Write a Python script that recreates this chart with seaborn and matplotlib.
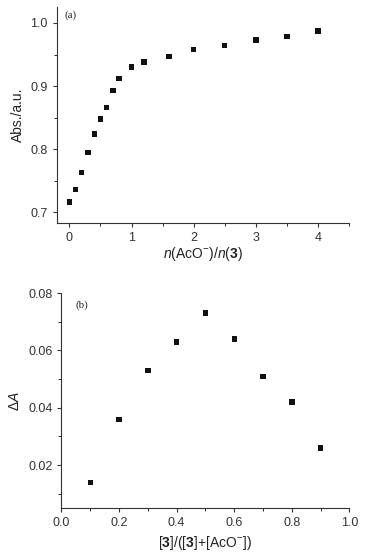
import numpy as np
import pandas as pd
import seaborn as sns
import matplotlib.pyplot as plt
from matplotlib.ticker import MultipleLocator

# Panel (a): titration
ratio_a = [0, 0.1, 0.2, 0.3, 0.4, 0.5, 0.6, 0.7, 0.8, 1.0, 1.2, 1.6, 2.0, 2.5, 3.0, 3.5, 4.0]
abs_a = [0.716, 0.736, 0.763, 0.795, 0.824, 0.848, 0.866, 0.893, 0.912, 0.930,
         0.938, 0.947, 0.958, 0.964, 0.973, 0.979, 0.987]

# Panel (b): Job plot
frac_b = [0.1, 0.2, 0.3, 0.4, 0.5, 0.6, 0.7, 0.8, 0.9]
delta_b = [0.014, 0.036, 0.053, 0.063, 0.073, 0.064, 0.051, 0.042, 0.026]

sns.set_style("ticks")
plt.rcParams["font.family"] = ["Liberation Sans", "DejaVu Sans"]
plt.rcParams["mathtext.fontset"] = "custom"
plt.rcParams["mathtext.rm"] = "Liberation Sans"
plt.rcParams["mathtext.it"] = "Liberation Sans:italic"
plt.rcParams["mathtext.bf"] = "Liberation Sans:bold"

fig = plt.figure(figsize=(3.77, 5.52), dpi=100)
ax1 = fig.add_axes([0.151, 0.596, 0.775, 0.391])
ax2 = fig.add_axes([0.163, 0.079, 0.764, 0.390])

df_a = pd.DataFrame({"x": ratio_a, "y": abs_a})
df_b = pd.DataFrame({"x": frac_b, "y": delta_b})

for ax, df in [(ax1, df_a), (ax2, df_b)]:
    sns.scatterplot(data=df, x="x", y="y", ax=ax, marker="s", s=15,
                    color="#111111", edgecolor="none")
    sns.despine(ax=ax)
    ax.tick_params(axis="both", which="major", direction="out", length=3,
                   width=0.8, labelsize=9, colors="#333333", labelcolor="#333333")
    ax.tick_params(axis="both", which="minor", direction="out", length=2, width=0.7)
    for s in ["left", "bottom"]:
        ax.spines[s].set_linewidth(0.8)
        ax.spines[s].set_color("#333333")

ax1.set_xlim(-0.2, 4.5)
ax1.set_ylim(0.683, 1.025)
ax1.xaxis.set_major_locator(MultipleLocator(1))
ax1.xaxis.set_minor_locator(MultipleLocator(0.5))
ax1.yaxis.set_major_locator(MultipleLocator(0.1))
ax1.yaxis.set_minor_locator(MultipleLocator(0.05))
ax1.set_xlabel(r"$\it{n}$(AcO$^{-}$)/$\it{n}$($\bf{3}$)", fontsize=10, color="#222222", labelpad=1)
ax1.set_ylabel("Abs./a.u.", fontsize=10, color="#222222", labelpad=4)
ax1.text(0.027, 0.963, "(a)", transform=ax1.transAxes, fontsize=8,
         family="Liberation Serif", ha="left", va="center")

ax2.set_xlim(0, 1.0)
ax2.set_ylim(0.0049, 0.08)
ax2.xaxis.set_major_locator(MultipleLocator(0.2))
ax2.xaxis.set_minor_locator(MultipleLocator(0.1))
ax2.yaxis.set_major_locator(MultipleLocator(0.02))
ax2.yaxis.set_minor_locator(MultipleLocator(0.01))
ax2.xaxis.set_major_formatter(plt.FormatStrFormatter("%.1f"))
ax2.yaxis.set_major_formatter(plt.FormatStrFormatter("%.2f"))
ax2.set_xlabel(r"[$\bf{3}$]/([$\bf{3}$]+[AcO$^{-}$])", fontsize=10, color="#222222", labelpad=3)
ax2.set_ylabel(r"$\Delta\it{A}$", fontsize=10, color="#222222", labelpad=4)
ax2.text(0.049, 0.944, "(b)", transform=ax2.transAxes, fontsize=8,
         family="Liberation Serif", ha="left", va="center")

fig.savefig("out.png", dpi=100)
